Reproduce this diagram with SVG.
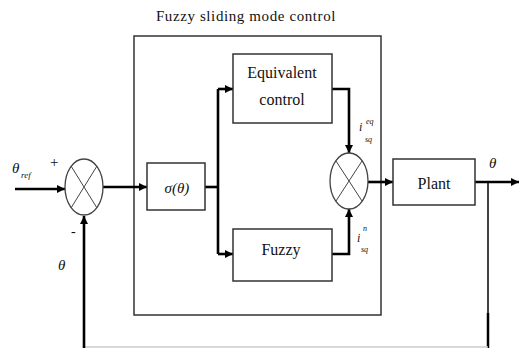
<svg xmlns="http://www.w3.org/2000/svg" width="519" height="348" viewBox="0 0 519 348">
<defs>
<marker id="ah" viewBox="0 0 10 10" refX="10" refY="5" markerWidth="3.3" markerHeight="3.1" markerUnits="strokeWidth" orient="auto">
<path d="M0,0 L10,5 L0,10 z" fill="#000"/>
</marker>
<style>
.box{fill:#fff;stroke:#333;stroke-width:1.5}
.outer{fill:none;stroke:#333;stroke-width:1.5}
.sum{fill:#fff;stroke:#444;stroke-width:1.3}
.x{stroke:#444;stroke-width:1}
.c{fill:none;stroke:#000;stroke-width:2.6}
text{fill:#111}
.i{font-style:italic}
</style>
</defs>
<rect width="519" height="348" fill="#fff"/>
<g font-family="Liberation Serif, Times New Roman, serif">
<text x="246" y="21" text-anchor="middle" font-size="15" letter-spacing="0.6">Fuzzy sliding mode control</text>
</g>
<rect class="outer" x="134" y="36" width="247" height="279"/>

<g id="connectors">
<line class="c" x1="15" y1="189" x2="65" y2="189" marker-end="url(#ah)"/>
<line class="c" x1="103" y1="187" x2="147" y2="187" marker-end="url(#ah)"/>
<polyline class="c" points="205,187 218,187"/>
<polyline class="c" points="218,89 218,254"/>
<line class="c" x1="218" y1="89" x2="233" y2="89" marker-end="url(#ah)"/>
<line class="c" x1="218" y1="254" x2="233" y2="254" marker-end="url(#ah)"/>
<polyline class="c" points="332,89 349,89 349,153" marker-end="url(#ah)"/>
<polyline class="c" points="332,254 349,254 349,209" marker-end="url(#ah)"/>
<line class="c" x1="368" y1="182" x2="393" y2="182" marker-end="url(#ah)"/>
<line class="c" x1="475" y1="182" x2="519" y2="182" marker-end="url(#ah)"/>
<line x1="488" y1="182" x2="488" y2="314" stroke="#000" stroke-width="1.5"/>
<line x1="488" y1="313" x2="488" y2="348" stroke="#000" stroke-width="2.5"/>
<line x1="84" y1="347" x2="488" y2="347" stroke="#ccc" stroke-width="1.5"/>
<line class="c" x1="84" y1="348" x2="84" y2="216" marker-end="url(#ah)"/>
</g>

<g id="sum1">
<ellipse class="sum" cx="84" cy="187" rx="19" ry="28"/>
<line class="x" x1="71" y1="166" x2="97" y2="208"/>
<line class="x" x1="97" y1="166" x2="71" y2="208"/>
</g>

<g font-family="'Liberation Serif', serif">
<g id="sigma">
<rect class="box" x="147" y="163" width="58" height="47"/>
<text class="i" x="177" y="193" font-size="15" text-anchor="middle">σ(θ)</text>
</g>

<g id="equivalent">
<rect class="box" x="233" y="54" width="99" height="69"/>
<text x="282" y="78" text-anchor="middle" font-size="16">Equivalent</text>
<text x="282" y="105" text-anchor="middle" font-size="16">control</text>
</g>

<g id="fuzzy">
<rect class="box" x="233" y="229" width="99" height="52"/>
<text x="281" y="255" text-anchor="middle" font-size="16">Fuzzy</text>
</g>

<g id="sum2">
<ellipse class="sum" cx="349" cy="181" rx="19" ry="28"/>
<line class="x" x1="336" y1="161" x2="362" y2="201"/>
<line class="x" x1="362" y1="161" x2="336" y2="201"/>
</g>

<g id="plant">
<rect class="box" x="393" y="159" width="82" height="46"/>
<text x="434" y="189" text-anchor="middle" font-size="16">Plant</text>
</g>

<g id="labels">
<text class="i" x="12" y="173" font-size="15">θ</text>
<text class="i" x="21" y="178" font-size="9">ref</text>
<text x="50" y="167" font-size="15">+</text>
<text x="71" y="236" font-size="14">-</text>
<text class="i" x="58" y="270" font-size="15">θ</text>
<text class="i" x="489" y="168" font-size="15">θ</text>
<text class="i" x="359" y="131" font-size="12">i</text>
<text class="i" x="366" y="124" font-size="8">eq</text>
<text class="i" x="365" y="142" font-size="8">sq</text>
<text class="i" x="357" y="242" font-size="12">i</text>
<text class="i" x="363" y="231" font-size="8">n</text>
<text class="i" x="361" y="252" font-size="8">sq</text>
</g>
</g>
</svg>
